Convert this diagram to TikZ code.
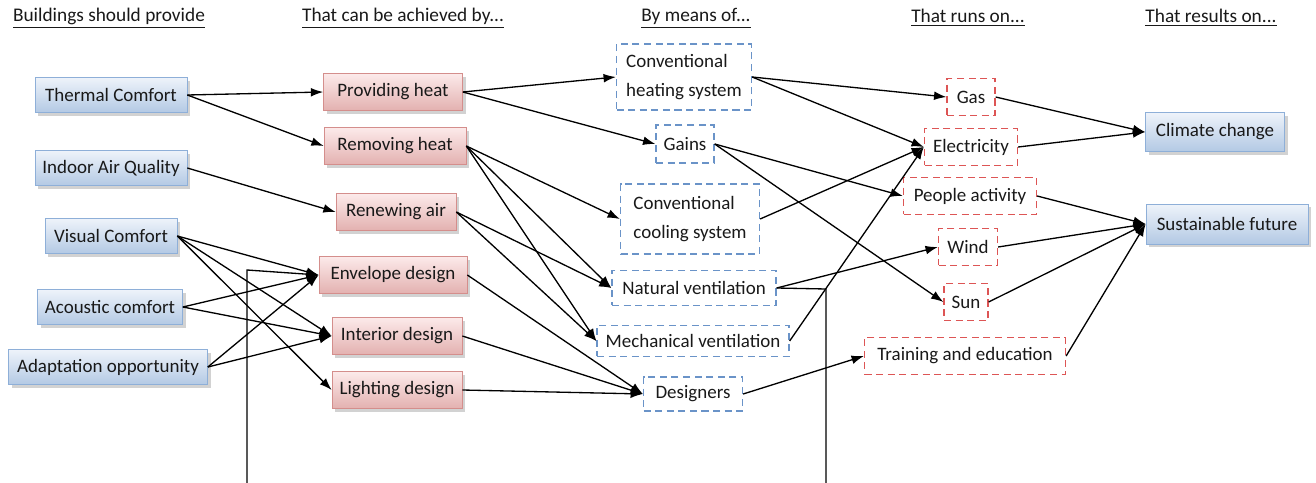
\documentclass[tikz,border=0pt]{standalone}
\usepackage{fontspec}
\setmainfont{Carlito}
\usepackage{tikz}
\usetikzlibrary{arrows.meta,shadows,positioning}
\definecolor{needtop}{HTML}{EEF3FA}
\definecolor{needbot}{HTML}{B3C9E4}
\definecolor{needline}{HTML}{8EAFD8}
\definecolor{waytop}{HTML}{FCEAEA}
\definecolor{waybot}{HTML}{E3B1B0}
\definecolor{wayline}{HTML}{D48E8C}
\definecolor{meanline}{HTML}{6A93C8}
\definecolor{sourceline}{HTML}{DD5555}

\begin{document}
\begin{tikzpicture}[x=0.02cm,y=-0.02cm]
      \tikzstyle{every node}=[font=\fontsize{10.8}{13}\selectfont, inner sep=2pt, text=black!90]
      \tikzstyle{head}=[font=\fontsize{11}{13}\selectfont]
      \tikzstyle{need}=[draw=needline, top color=needtop, bottom color=needbot, minimum height=0.7cm,
        drop shadow={shadow xshift=1.8pt, shadow yshift=-1.8pt, fill=black!35}]
      \tikzstyle{way}=[draw=wayline, top color=waytop, bottom color=waybot, minimum height=0.74cm,
        drop shadow={shadow xshift=1.8pt, shadow yshift=-1.8pt, fill=black!35}]
      \tikzstyle{mean}=[draw=meanline, dash pattern=on 4pt off 2.6pt, line width=0.75pt, align=left,
        font=\fontsize{10.8}{16}\selectfont, minimum height=0.7cm]
      \tikzstyle{source}=[draw=sourceline, dash pattern=on 4pt off 2.6pt, line width=0.75pt, minimum height=0.74cm]
      \tikzstyle{link}=[->, >={Latex[length=7pt,width=5pt]}, line width=0.75pt]

      \useasboundingbox (0,0) rectangle (1316,483);

      % column titles
      \node[head] (H1) at (109,18) {\underline{Buildings should provide}};
      \node[head] (H2) at (403,18) {\underline{That can be achieved by...}};
      \node[head] (H3) at (696,18) {\underline{By means of...}};
      \node[head] (H4) at (968,18) {\underline{That runs on...}};
      \node[head] (H5) at (1211,18) {\underline{That results on...}};

      % what buildings should provide
      \node[need, minimum width=3.04cm] (TC) at (111,95) {Thermal Comfort};
      \node[need, minimum width=3.04cm] (IAQ) at (111,168) {Indoor Air Quality};
      \node[need, minimum width=2.64cm] (VC) at (111,236) {Visual Comfort};
      \node[need, minimum width=2.9cm] (AC) at (110,307) {Acoustic comfort};
      \node[need, minimum width=3.98cm] (AO) at (108,367) {Adaptation opportunity};

      % how
      \node[way, minimum width=2.78cm] (PH) at (393,92) {Providing heat};
      \node[way, minimum width=2.84cm] (RH) at (395,146) {Removing heat};
      \node[way, minimum width=2.4cm] (RA) at (396,212) {Renewing air};
      \node[way, minimum width=2.96cm] (ED) at (393,275) {Envelope design};
      \node[way, minimum width=2.6cm] (ID) at (397,336) {Interior design};
      \node[way, minimum width=2.6cm] (LD) at (397,390) {Lighting design};

      % by means of
      \node[mean, minimum width=2.7cm, minimum height=1.32cm] (CH) at (684,77) {Conventional\\heating system};
      \node[mean, minimum width=1.16cm, minimum height=0.76cm] (G) at (685,144) {Gains};
      \node[mean, minimum width=2.78cm, minimum height=1.4cm] (CC) at (690,219) {Conventional\\cooling system};
      \node[mean, minimum width=3.28cm] (NV) at (694,288) {Natural ventilation};
      \node[mean, minimum width=3.84cm, minimum height=0.62cm] (MV) at (693,341) {Mechanical ventilation};
      \node[mean, minimum width=1.98cm, minimum height=0.68cm] (D) at (693,394) {Designers};

      % runs on
      \node[source, minimum width=0.96cm] (Gas) at (971,97) {Gas};
      \node[source, minimum width=1.86cm] (El) at (971,147) {Electricity};
      \node[source, minimum width=2.66cm] (PA) at (970,196) {People activity};
      \node[source, minimum width=1.18cm] (W) at (968,247) {Wind};
      \node[source, minimum width=0.88cm] (S) at (966,302) {Sun};
      \node[source, minimum width=4.02cm] (TE) at (965,356) {Training and education};

      % results
      \node[need, minimum width=2.78cm, minimum height=0.78cm] (CCh) at (1215,132) {Climate change};
      \node[need, minimum width=3.24cm, minimum height=0.8cm] (SF) at (1227,224) {Sustainable future};

      \draw[link] (TC.east) -- (PH.west);
      \draw[link] (TC.east) -- (RH.west);
      \draw[link] (IAQ.east) -- (RA.west);
      \draw[link] (VC.east) -- (ED.west);
      \draw[link] (VC.east) -- (ID.west);
      \draw[link] (VC.east) -- (LD.west);
      \draw[link] (AC.east) -- (ED.west);
      \draw[link] (AC.east) -- (ID.west);
      \draw[link] (AO.east) -- (ED.west);
      \draw[link] (AO.east) -- (ID.west);

      \draw[link] (PH.east) -- (CH.west);
      \draw[link] (PH.east) -- (G.west);
      \draw[link] (RH.east) -- (CC.west);
      \draw[link] (RH.east) -- (NV.west);
      \draw[link] (RH.east) -- (MV.west);
      \draw[link] (RA.east) -- (NV.west);
      \draw[link] (RA.east) -- (MV.west);
      \draw[link] (ED.east) -- (D.west);
      \draw[link] (ID.east) -- (D.west);
      \draw[link] (LD.east) -- (D.west);

      \draw[link] (CH.east) -- (Gas.west);
      \draw[link] (CH.east) -- (El.west);
      \draw[link] (G.east) -- (PA.west);
      \draw[link] (G.east) -- (S.west);
      \draw[link] (CC.east) -- (El.west);
      \draw[link] (NV.east) -- (W.west);
      \draw[link] (MV.east) -- (El.west);
      \draw[link] (D.east) -- (TE.west);

      \draw[link] (Gas.east) -- (CCh.west);
      \draw[link] (El.east) -- (CCh.west);
      \draw[link] (PA.east) -- (SF.west);
      \draw[link] (W.east) -- (SF.west);
      \draw[link] (S.east) -- (SF.west);
      \draw[link] (TE.east) -- (SF.west);

      % feedback from natural ventilation back to envelope design
      \begin{scope}
        \clip (0,0) rectangle (1316,483);
        \draw[link] (NV.east) -- (826,289) -- (826,495) -- (247,495) -- (247,270) -- (ED.west);
      \end{scope}
    \end{tikzpicture}
\end{document}
